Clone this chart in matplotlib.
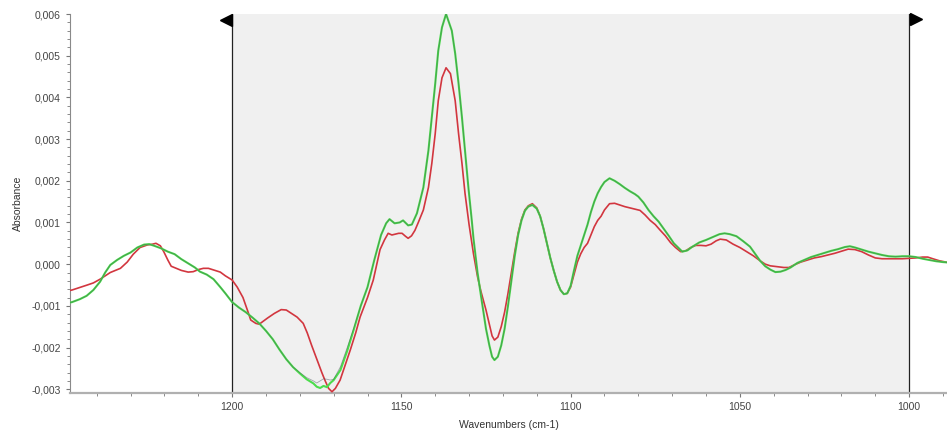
import numpy as np
import matplotlib
matplotlib.use("Agg")
import matplotlib.pyplot as plt
from matplotlib.ticker import MultipleLocator, FuncFormatter

plt.rcParams['font.family'] = ['Liberation Sans', 'DejaVu Sans']

# spectra (absorbance x 1e-3)
wn_green = [1248.5, 1247.3, 1245, 1243, 1241, 1239, 1237.5, 1236, 1234, 1232, 1230, 1228, 1226, 1224.5,
            1223, 1221, 1219, 1217, 1215, 1213, 1211, 1209.5, 1207.5, 1205.5, 1203.5, 1202, 1200, 1198,
            1196, 1194, 1192, 1190, 1188, 1186, 1184, 1182, 1180, 1178, 1176, 1175, 1174, 1173, 1172,
            1171, 1170, 1168, 1166, 1164, 1162, 1160, 1158, 1156, 1154.5, 1153.5, 1152, 1150.5, 1149.5,
            1148, 1146.9, 1145.4, 1143.5, 1142, 1141, 1140, 1139.1, 1138, 1136.8, 1135.1, 1134.1, 1133.1,
            1132.1, 1131.2, 1130.2, 1129.2, 1128.7, 1127.5, 1126.5, 1125, 1124, 1123.2, 1122.5, 1121.5,
            1120.5, 1119.5, 1118.5, 1117.5, 1116.5, 1115.5, 1114.5, 1113.5, 1112.5, 1111.3, 1110, 1109,
            1108, 1107, 1106, 1105, 1104, 1103, 1102, 1101, 1100, 1099, 1098, 1097, 1096, 1095, 1094,
            1093, 1092, 1091, 1090, 1088.5, 1087, 1085.5, 1084, 1082.5, 1081, 1080, 1078.5, 1077, 1075.5,
            1074, 1072.5, 1071, 1069.5, 1068, 1067, 1065.5, 1064, 1062, 1060, 1058, 1056, 1054.5, 1053,
            1051, 1049, 1047, 1045.5, 1044, 1042.5, 1041, 1039.5, 1038, 1036.5, 1035, 1033, 1031, 1029,
            1027, 1025, 1023, 1021, 1019, 1017.5, 1016, 1014, 1012, 1010, 1008, 1006, 1004, 1002, 1000,
            998, 996, 994, 992, 990, 988.5]
abs_green = [-0.93, -0.91, -0.84, -0.76, -0.62, -0.42, -0.20, -0.02, 0.10, 0.20, 0.28, 0.40, 0.47, 0.48,
             0.44, 0.38, 0.30, 0.24, 0.12, 0.02, -0.08, -0.18, -0.25, -0.36, -0.55, -0.70, -0.91, -1.04,
             -1.15, -1.28, -1.42, -1.60, -1.80, -2.05, -2.28, -2.47, -2.62, -2.76, -2.86, -2.94, -2.97,
             -2.92, -2.95, -2.85, -2.78, -2.54, -2.08, -1.55, -1.00, -0.55, 0.10, 0.70, 0.98, 1.08, 0.98,
             1.00, 1.05, 0.93, 0.95, 1.22, 1.84, 2.73, 3.52, 4.33, 5.12, 5.68, 6.00, 5.60, 5.05, 4.33,
             3.52, 2.73, 1.84, 1.05, 0.62, -0.20, -0.75, -1.55, -1.95, -2.22, -2.30, -2.22, -1.95, -1.55,
             -1.00, -0.40, 0.20, 0.70, 1.05, 1.28, 1.38, 1.42, 1.33, 1.15, 0.85, 0.50, 0.15, -0.15,
             -0.42, -0.62, -0.72, -0.70, -0.52, -0.15, 0.20, 0.45, 0.70, 0.95, 1.25, 1.50, 1.70, 1.85,
             1.97, 2.06, 2.00, 1.92, 1.83, 1.75, 1.68, 1.62, 1.48, 1.30, 1.15, 1.02, 0.85, 0.68, 0.50,
             0.38, 0.30, 0.33, 0.42, 0.52, 0.58, 0.65, 0.72, 0.74, 0.72, 0.67, 0.55, 0.42, 0.25, 0.08,
             -0.05, -0.13, -0.19, -0.18, -0.14, -0.08, 0.03, 0.10, 0.17, 0.22, 0.27, 0.32, 0.36, 0.41,
             0.43, 0.40, 0.35, 0.30, 0.26, 0.22, 0.19, 0.18, 0.19, 0.19, 0.17, 0.13, 0.10, 0.07, 0.05,
             0.04]
# dark trace lies on the green one except around the 1172 minimum
abs_dark = [-0.93, -0.91, -0.84, -0.76, -0.62, -0.42, -0.20, -0.02, 0.10, 0.20, 0.28, 0.40, 0.47, 0.48,
            0.44, 0.38, 0.30, 0.24, 0.12, 0.02, -0.08, -0.18, -0.25, -0.36, -0.55, -0.70, -0.91, -1.04,
            -1.15, -1.28, -1.42, -1.60, -1.80, -2.05, -2.28, -2.47, -2.60, -2.72, -2.80, -2.85, -2.80,
            -2.75, -2.76, -2.78, -2.76, -2.46, -2.00, -1.52, -1.00, -0.55, 0.10, 0.70, 0.98, 1.08, 0.98,
            1.00, 1.05, 0.93, 0.95, 1.22, 1.84, 2.73, 3.52, 4.33, 5.12, 5.68, 6.00, 5.60, 5.05, 4.33,
            3.52, 2.73, 1.84, 1.05, 0.62, -0.20, -0.75, -1.55, -1.95, -2.22, -2.30, -2.22, -1.95, -1.55,
            -1.00, -0.40, 0.20, 0.70, 1.05, 1.28, 1.38, 1.42, 1.33, 1.15, 0.85, 0.50, 0.15, -0.15,
            -0.42, -0.62, -0.72, -0.70, -0.52, -0.15, 0.20, 0.45, 0.70, 0.95, 1.25, 1.50, 1.70, 1.85,
            1.97, 2.06, 2.00, 1.92, 1.83, 1.75, 1.68, 1.62, 1.48, 1.30, 1.15, 1.02, 0.85, 0.68, 0.50,
            0.38, 0.30, 0.33, 0.42, 0.52, 0.58, 0.65, 0.72, 0.74, 0.72, 0.67, 0.55, 0.42, 0.25, 0.08,
            -0.05, -0.13, -0.19, -0.18, -0.14, -0.08, 0.03, 0.10, 0.17, 0.22, 0.27, 0.32, 0.36, 0.41,
            0.43, 0.40, 0.35, 0.30, 0.26, 0.22, 0.19, 0.18, 0.19, 0.19, 0.17, 0.13, 0.10, 0.07, 0.05,
            0.04]

wn_red = [1248.5, 1247.3, 1245, 1242.8, 1241, 1239, 1237.5, 1236, 1234.5, 1233, 1231, 1229.2, 1227.2,
          1225.1, 1223.5, 1222.5, 1221.2, 1220.2, 1219, 1218, 1216.5, 1215, 1213, 1211.5, 1210, 1208.5,
          1207, 1205, 1203.5, 1202, 1200, 1198.5, 1196.8, 1195.5, 1194.5, 1193, 1192, 1190.5, 1189.5,
          1187.5, 1185.5, 1184, 1182.5, 1180.8, 1179, 1177.8, 1176.5, 1174.9, 1173.5, 1172.5, 1171.5,
          1170.5, 1169.5, 1168.1, 1166.5, 1165.1, 1163.5, 1162.2, 1160, 1158.3, 1156.3, 1155, 1153.9,
          1152.8, 1151.8, 1150.8, 1149.8, 1148.8, 1148, 1147, 1146, 1145, 1143.5, 1142, 1141, 1140,
          1139.1, 1138, 1136.8, 1135.5, 1134.1, 1133.1, 1132.1, 1131.2, 1130, 1128.7, 1127.5, 1126.5,
          1125, 1124, 1123.2, 1122.5, 1121.5, 1120.5, 1119.5, 1118.5, 1117.5, 1116.5, 1115.5, 1114.5,
          1113.5, 1112.5, 1111.3, 1110, 1109, 1108, 1107, 1106, 1105, 1104, 1103, 1102, 1101, 1100,
          1099, 1098, 1097, 1096, 1095, 1094, 1093, 1092, 1091, 1090, 1088.5, 1087, 1085.5, 1084,
          1082.5, 1081, 1079.5, 1078, 1076.5, 1075, 1073.6, 1072, 1070.5, 1069, 1067.5, 1066, 1064.5,
          1063, 1061.5, 1060, 1058.5, 1057, 1055.8, 1054, 1052, 1050, 1048, 1046, 1044, 1042.5, 1041,
          1039, 1037, 1035.5, 1034, 1032, 1030, 1028, 1026, 1024, 1022, 1020, 1018, 1016, 1014, 1012,
          1010, 1008, 1006, 1004, 1002, 1000, 998, 996, 994.5, 993, 991, 988.5]
abs_red = [-0.64, -0.62, -0.56, -0.50, -0.45, -0.36, -0.28, -0.20, -0.15, -0.10, 0.05, 0.24, 0.40,
           0.46, 0.48, 0.50, 0.44, 0.30, 0.10, -0.05, -0.10, -0.15, -0.19, -0.18, -0.13, -0.10,
           -0.10, -0.15, -0.19, -0.28, -0.38, -0.55, -0.80, -1.10, -1.34, -1.42, -1.44, -1.35, -1.29,
           -1.18, -1.09, -1.10, -1.18, -1.27, -1.42, -1.65, -1.95, -2.30, -2.60, -2.80, -2.98,
           -3.06, -2.98, -2.78, -2.40, -2.06, -1.65, -1.27, -0.80, -0.38, 0.35, 0.58, 0.74,
           0.70, 0.72, 0.74, 0.74, 0.67, 0.62, 0.68, 0.81, 1.00, 1.30, 1.84, 2.42, 3.13,
           3.92, 4.47, 4.71, 4.57, 3.92, 3.13, 2.42, 1.70, 0.95, 0.25, -0.30, -0.65,
           -1.10, -1.45, -1.72, -1.82, -1.75, -1.50, -1.15, -0.70, -0.20, 0.30, 0.75, 1.08,
           1.30, 1.40, 1.45, 1.35, 1.15, 0.85, 0.50, 0.15, -0.15, -0.42, -0.62, -0.72, -0.70, -0.55,
           -0.25, 0.05, 0.25, 0.40, 0.50, 0.70, 0.90, 1.05, 1.15, 1.30, 1.45, 1.46, 1.42, 1.38,
           1.35, 1.32, 1.29, 1.18, 1.05, 0.95, 0.82, 0.68, 0.52, 0.40, 0.30, 0.32, 0.40,
           0.45, 0.45, 0.44, 0.48, 0.56, 0.60, 0.58, 0.48, 0.40, 0.30, 0.20, 0.08, 0.00, -0.04,
           -0.06, -0.08, -0.08, -0.02, 0.05, 0.10, 0.15, 0.18, 0.22, 0.26, 0.31, 0.36, 0.35, 0.30, 0.22,
           0.15, 0.13, 0.13, 0.13, 0.13, 0.14, 0.15, 0.17, 0.17, 0.13, 0.08, 0.04]

region = [1000, 1200]
x_ticks = [1200, 1150, 1100, 1050, 1000]

fig = plt.figure(figsize=(9.47, 4.33), dpi=100)
ax = fig.add_axes([70 / 947, 1 - 393 / 433, 877 / 947, 379 / 433])

ax.axvspan(region[0], region[1], color='#f0f0f0', zorder=0, lw=0)
for xv in region:
    ax.axvline(xv, color='#222222', lw=0.9, zorder=1)

ax.plot(wn_red, np.array(abs_red) * 1e-3, color='#d2363f', lw=1.2, zorder=3)
ax.plot(wn_green, np.array(abs_green) * 1e-3, color='#4cdc4c', lw=1.5, zorder=4)
ax.plot(wn_green, np.array(abs_dark) * 1e-3, color='#3d4a55', lw=0.6, alpha=0.45, zorder=5)

ax.set_xlim(1247.9, 988.8)
ax.set_ylim(-0.00309, 0.006)

# region markers
tr = ax.get_xaxis_transform()
ax.plot([1201.8], [0.984], marker='<', color='black', markersize=8, transform=tr, clip_on=False, zorder=6)
ax.plot([997.9], [0.986], marker='>', color='black', markersize=8, transform=tr, clip_on=False, zorder=6)

ax.set_xticks(x_ticks)
ax.xaxis.set_minor_locator(MultipleLocator(10))
ax.yaxis.set_major_locator(MultipleLocator(0.001))
ax.yaxis.set_minor_locator(MultipleLocator(0.0002))
ax.yaxis.set_major_formatter(FuncFormatter(lambda v, p: ('%.3f' % v).replace('.', ',').replace('-0,000', '0,000')))

for s in ['top', 'right']:
    ax.spines[s].set_visible(False)
ax.spines['left'].set_color('#8a8a8a')
ax.spines['left'].set_linewidth(0.8)
ax.spines['bottom'].set_color('#b0b0b0')
ax.spines['bottom'].set_linewidth(1.6)
ax.tick_params(which='both', colors='#777777', labelcolor='#444444', labelsize=7.5)
ax.tick_params(which='major', length=3, width=0.8)
ax.tick_params(which='minor', length=2, width=0.6)
ax.set_facecolor('white')

ax.set_xlabel('Wavenumbers (cm-1)', fontsize=7.5, color='#333333', labelpad=6)
ax.set_ylabel('Absorbance', fontsize=7.5, color='#333333', labelpad=6)

fig.savefig('out.png', dpi=100)
